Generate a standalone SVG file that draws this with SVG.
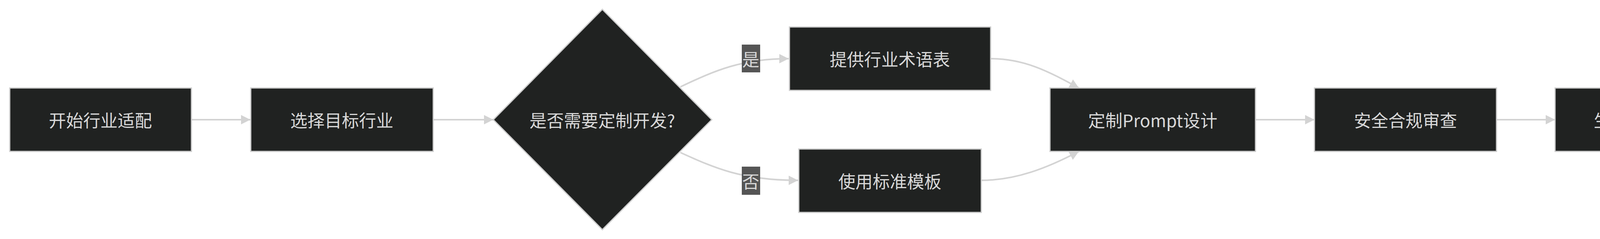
<svg xmlns="http://www.w3.org/2000/svg" width="5614" height="611" viewBox="0 0 5614 611">
<style>
.n{fill:#202221;stroke:#cccccc;stroke-width:3}
.t{fill:#d8d8d8;font-family:"Noto Sans CJK SC","Liberation Sans",sans-serif;font-size:44px;text-anchor:middle;dominant-baseline:central}
.e{fill:none;stroke:#d3d3d3;stroke-width:4}
.lb{fill:#555555}
</style>
<defs>
<marker id="a" markerUnits="userSpaceOnUse" markerWidth="26" markerHeight="26" refX="24" refY="12" orient="auto">
<path d="M0,0 L24,12 L0,24 z" fill="#d3d3d3"/>
</marker>
</defs>
<rect width="5614" height="611" fill="#ffffff"/>
<g id="edges">
<path class="e" marker-end="url(#a)" d="M491,306 L641,306"/>
<path class="e" marker-end="url(#a)" d="M1110,306 L1263,306"/>
<path class="e" marker-end="url(#a)" d="M1742,222 C1830,180 1900,150 2019,150"/>
<path class="e" marker-end="url(#a)" d="M1742,390 C1830,430 1900,461 2043,461"/>
<path class="e" marker-end="url(#a)" d="M2536,150 C2620,150 2680,180 2762,225"/>
<path class="e" marker-end="url(#a)" d="M2512,461 C2600,461 2680,430 2762,387"/>
<path class="e" marker-end="url(#a)" d="M3214,306 L3365,306"/>
<path class="e" marker-end="url(#a)" d="M3831,306 L3981,306"/>
<path class="e" marker-end="url(#a)" d="M4400,306 L4550,306"/>
<path class="e" marker-end="url(#a)" d="M4973,306 L5123,306"/>
<g id="l-yes"><rect class="lb" x="1899" y="114" width="47" height="71"/><text class="t" x="1922" y="150">是</text></g>
<g id="l-no"><rect class="lb" x="1899" y="426" width="47" height="72"/><text class="t" x="1922" y="462">否</text></g>
</g>
<g id="n1"><rect class="n" x="25" y="225" width="465" height="162"/><text class="t" x="257" y="306">开始行业适配</text></g>
<g id="n2"><rect class="n" x="642" y="225" width="467" height="162"/><text class="t" x="875" y="306">选择目标行业</text></g>
<g id="n3"><polygon class="n" points="1542,24 1822,306 1542,587 1263,306"/><text class="t" x="1542" y="306">是否需要定制开发?</text></g>
<g id="n4"><rect class="n" x="2021" y="69" width="515" height="162"/><text class="t" x="2278" y="150">提供行业术语表</text></g>
<g id="n5"><rect class="n" x="2045" y="381" width="467" height="162"/><text class="t" x="2278" y="462">使用标准模板</text></g>
<g id="n6"><rect class="n" x="2688" y="225" width="526" height="162"/><text class="t" x="2951" y="306">定制Prompt设计</text></g>
<g id="n7"><rect class="n" x="3365" y="225" width="466" height="162"/><text class="t" x="3598" y="306">安全合规审查</text></g>
<g id="n8"><rect class="n" x="3981" y="225" width="419" height="162"/><text class="t" x="4190" y="306">生成部署包</text></g>
<g id="n9"><rect class="n" x="4550" y="225" width="423" height="162"/><text class="t" x="4761" y="306">自动化测试</text></g>
<g id="n10"><rect class="n" x="5123" y="225" width="466" height="162"/><text class="t" x="5356" y="306">生产环境上线</text></g>
</svg>
